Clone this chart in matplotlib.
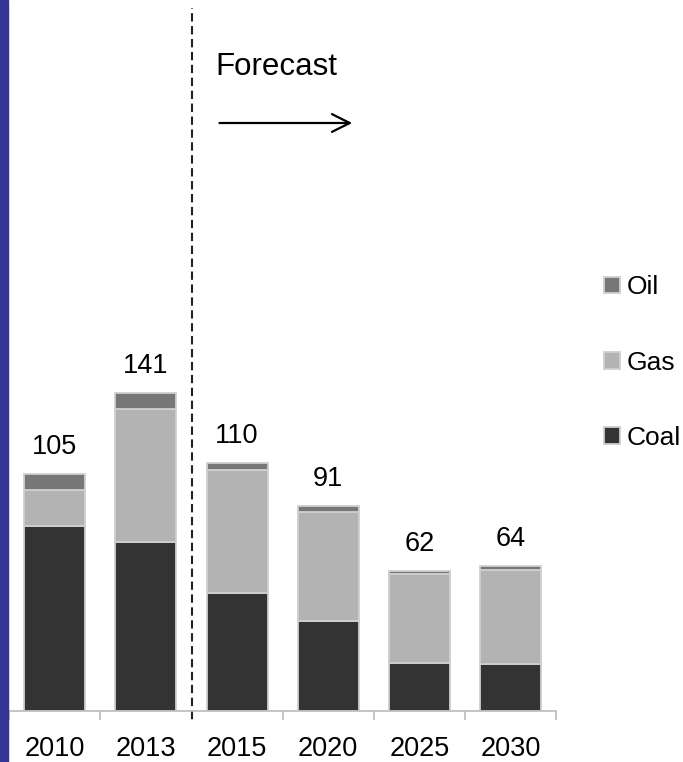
#!/bin/env python3

'''
Stacked bar chart of power generation by fuel, actuals and forecast
'''

import matplotlib
matplotlib.use("Agg")
import matplotlib.pyplot as plt
from matplotlib.patches import Rectangle, FancyArrowPatch


##############################################################
# Data
##############################################################
years = ["2010", "2013", "2015", "2020", "2025", "2030"]
coal = [82, 75, 52, 40, 21, 20.6]
gas = [16, 59, 55, 48, 39.5, 41.8]
oil = [7, 7, 3, 3, 1.5, 1.6]
totals = [105, 141, 110, 91, 62, 64]

COAL_COLOR = "#333333"
GAS_COLOR = "#b3b3b3"
OIL_COLOR = "#777777"
EDGE = "#cfcfcf"

plt.rcParams["font.family"] = ["Liberation Sans", "DejaVu Sans"]

W, H = 683, 762
fig = plt.figure(figsize=(W / 100, H / 100), dpi=100)

# blue strip on the left edge
fig.patches.append(Rectangle((0, 0), 8 / W, 1, transform=fig.transFigure,
                             color="#343496", zorder=0))

left_px, right_px, base_px = 9.3, 556, 710.7
ax = fig.add_axes([left_px / W, (H - base_px) / H,
                   (right_px - left_px) / W, base_px / H])

x = list(range(len(years)))
bot_gas = coal
bot_oil = [c + g for c, g in zip(coal, gas)]

bw = 0.67
ax.bar(x, coal, bw, color=COAL_COLOR, edgecolor=EDGE, linewidth=1.3, label="Coal")
ax.bar(x, gas, bw, bottom=bot_gas, color=GAS_COLOR, edgecolor=EDGE, linewidth=1.3, label="Gas")
ax.bar(x, oil, bw, bottom=bot_oil, color=OIL_COLOR, edgecolor=EDGE, linewidth=1.3, label="Oil")

for xi, top, t in zip(x, [b + o for b, o in zip(bot_oil, oil)], totals):
    ax.annotate(str(t), (xi, top), xytext=(0, 14.4), textcoords="offset points",
                ha="center", va="baseline", fontsize=19.5)

ax.set_xlim(-0.5, len(years) - 0.5)
ax.set_ylim(0, base_px / 2.254)

for s in ["top", "right", "left"]:
    ax.spines[s].set_visible(False)
ax.spines["bottom"].set_color("#bbbbbb")
ax.spines["bottom"].set_linewidth(1.2)
ax.set_yticks([])
ax.set_xticks(x)
ax.set_xticklabels(years, fontsize=19.5)
ax.tick_params(axis="x", which="major", length=0, pad=18)
ax.set_xticks([i - 0.5 for i in range(len(years) + 1)], minor=True)
ax.tick_params(axis="x", which="minor", length=6.5, width=1.2, color="#bbbbbb")

# forecast divider
ax.axvline(1.5, ymin=-0.0117, ymax=0.9887, color="#222222", linestyle=(0, (4, 2.2)),
           linewidth=1.5, clip_on=False)

fig.text(215 / W, 1 - 75 / H, "Forecast", fontsize=22.5, ha="left", va="baseline")
fig.add_artist(FancyArrowPatch(
    (216.7 / W, 1 - 123 / H), (355 / W, 1 - 123 / H), transform=fig.transFigure,
    arrowstyle="->", mutation_scale=32, linewidth=1.6, color="black"))

handles, labels = ax.get_legend_handles_labels()
ax.legend(handles[::-1], labels[::-1], loc="center left",
          bbox_to_anchor=(604 / W, 1 - 362.7 / H), bbox_transform=fig.transFigure,
          frameon=False, fontsize=19, handlelength=0.6, handleheight=0.6,
          handletextpad=0.25, labelspacing=1.95, borderpad=0, borderaxespad=0)

fig.savefig("out.png", dpi=100)
